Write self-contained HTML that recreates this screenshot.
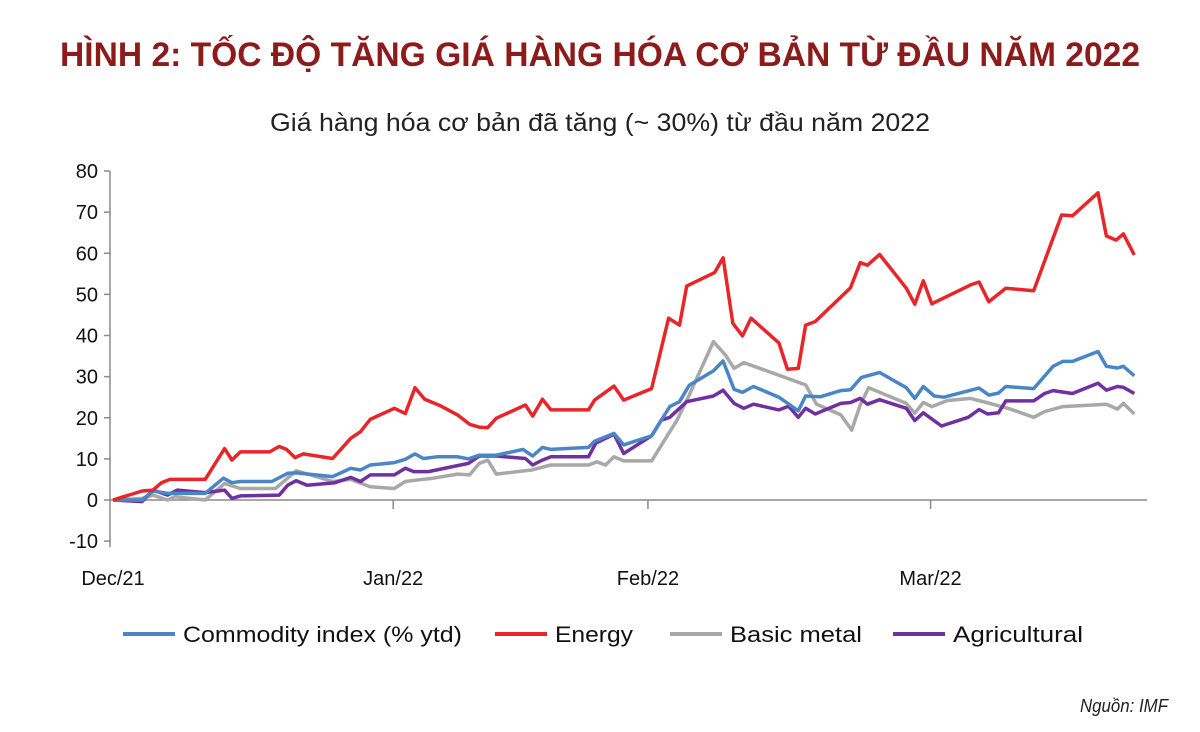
<!DOCTYPE html>
<html><head><meta charset="utf-8"><style>
html,body{margin:0;padding:0;background:#fff;width:1200px;height:732px;overflow:hidden}
svg{display:block;font-family:"Liberation Sans","DejaVu Sans",sans-serif}
</style></head><body>
<svg id="chart" width="1200" height="732" viewBox="0 0 1200 732">
<text x="600" y="66" text-anchor="middle" font-size="34" font-weight="bold" fill="#8c1b1b" textLength="1080" lengthAdjust="spacingAndGlyphs">HÌNH 2: TỐC ĐỘ TĂNG GIÁ HÀNG HÓA CƠ BẢN TỪ ĐẦU NĂM 2022</text>
<text x="600" y="131" text-anchor="middle" font-size="25" fill="#222" textLength="660" lengthAdjust="spacingAndGlyphs">Giá hàng hóa cơ bản đã tăng (~ 30%) từ đầu năm 2022</text>
<g id="axes"></g>
<g id="series"></g>
<g id="legend"></g>
<text x="1168" y="712" text-anchor="end" font-size="18" font-style="italic" fill="#222" textLength="88" lengthAdjust="spacingAndGlyphs">Nguồn: IMF</text>
</svg>
<script>
// Data: x = trading-day index since start of period, y = % change ytd
const yTicks = [80,70,60,50,40,30,20,10,0,-10];
const monthLabels = ["Dec/21","Jan/22","Feb/22","Mar/22"];
const monthDays = [0,23.1,44.1,67.4];
const seriesNames = ["Commodity index (% ytd)","Energy","Basic metal","Agricultural"];

const energyDays = [0,2.4,3.3,4,4.7,7.6,9.2,9.8,10.5,12.9,13.7,14.3,15,15.7,18.1,18.7,19.6,20.4,21.2,23.2,24.1,24.9,25.7,27,28.4,29.4,30.2,30.9,31.6,34,34.6,35.4,36.1,39.2,39.7,41.3,42.1,44.4,45.8,46.7,47.3,49.6,50.3,51.1,51.9,52.6,54.9,55.6,56.5,57.1,57.9,60.8,61.6,62.2,63.2,65.4,66.1,66.8,67.5,70.7,71.4,72.2,73.6,75.9,78.2,79.1,81.2,81.9,82.7,83.3,84.2];
const energyVals = [0,2.2,2.4,4.2,5,5,12.5,9.7,11.7,11.7,13,12.3,10.3,11.2,10.1,12,15,16.6,19.6,22.3,21,27.3,24.5,22.9,20.7,18.4,17.7,17.6,19.9,23.1,20.4,24.5,21.9,21.9,24.3,27.7,24.3,27.1,44.2,42.5,52,55.3,58.9,43,39.9,44.2,38.2,31.8,32,42.5,43.4,51.6,57.7,57.1,59.7,51.5,47.6,53.3,47.7,52.3,53,48.2,51.5,50.9,69.3,69.1,74.7,64.2,63.2,64.7,59.6];

const commodityDays = [0,2.4,3.3,4.5,7.6,9.1,9.8,10.5,13.1,14.4,15.1,18.1,19.6,20.4,21.2,23.2,24.1,24.9,25.6,26.7,28.4,29.3,30.2,31.6,33.8,34.6,35.4,36.1,39.2,39.7,41.3,42.1,44.4,45.9,46.7,47.5,49.5,50.3,51.2,51.9,52.8,54.9,56.5,57.1,58.3,60,60.8,61.7,63.2,65.4,66.1,66.8,67.7,68.5,71.4,72.2,73,73.6,75.9,77.5,78.3,79.1,81.2,81.9,82.8,83.3,84.2];
const commodityVals = [0,0,2.2,1.6,1.6,5.3,4.2,4.5,4.5,6.5,6.6,5.7,7.7,7.3,8.5,9.1,9.9,11.2,10.1,10.5,10.5,10,10.9,10.9,12.3,10.7,12.8,12.3,12.8,14.3,16.2,13.4,15.6,22.7,23.9,27.9,31.4,33.8,26.9,26.2,27.6,25,21.7,25.3,25.1,26.6,26.8,29.8,31,27.3,24.7,27.6,25.3,25,27.2,25.5,26,27.6,27.1,32.5,33.7,33.7,36.1,32.5,32.1,32.5,30.2];

const metalDays = [0,2.4,3.3,4.5,5.1,7.6,9.2,10.5,13.4,15.1,16.3,18.1,19.6,21.2,23.2,24.1,25.2,26.4,28.4,29.4,30.2,30.9,31.6,34.5,36.1,39.2,39.9,40.6,41.3,42.1,44.4,46.5,47.5,49.5,50.5,51.2,52,57.1,58,60,60.9,61.6,62.3,65.4,66.1,66.8,67.5,68.8,70.7,72,74,75.9,76.8,78.3,81.9,82.8,83.3,84.2];
const metalVals = [0,0.4,1.2,0,0.8,0,4,2.8,2.8,7.1,6.1,4.5,5,3.2,2.8,4.5,4.9,5.3,6.3,6.1,8.9,9.7,6.3,7.3,8.5,8.5,9.3,8.5,10.5,9.5,9.5,19.4,25.5,38.5,35.2,32,33.4,28,23.3,20.7,17,23.1,27.3,23.5,21.1,23.7,22.7,24.2,24.7,23.7,22.1,20.1,21.5,22.7,23.3,22.1,23.5,20.9];

const agriDays = [0,2.4,3.3,4.5,5.3,7.6,9.2,9.8,10.5,13.7,14.4,15.1,16,18.3,19.6,20.4,21.2,23.2,24.1,24.8,26,29.3,30.2,31.6,34,34.6,35.4,36.1,39.2,39.8,41.3,42.1,44.4,45.2,45.9,47.3,49.5,50.3,51.2,52,52.8,54.9,55.7,56.5,57.1,57.9,60,60.8,61.6,62.2,63.2,65.4,66.1,66.8,68.3,70.5,71.4,72.1,73,73.6,75.9,76.8,77.5,79.1,81.2,81.9,82.8,83.3,84.2];
const agriVals = [0,-0.4,2.4,1.2,2.4,1.8,2.4,0.4,1,1.2,3.6,4.7,3.6,4.2,5.5,4.5,6.1,6.1,7.7,6.9,6.9,8.9,10.7,10.7,10.1,8.5,9.7,10.5,10.5,13.8,16,11.3,15.6,19.4,20.1,23.9,25.3,26.7,23.5,22.3,23.3,21.9,22.8,20.1,22.3,20.9,23.5,23.7,24.7,23.3,24.4,22.3,19.3,21.2,18,20.1,22,20.9,21.2,24.1,24.1,25.9,26.6,25.9,28.4,26.7,27.6,27.4,25.9];

const NS = "http://www.w3.org/2000/svg";
const X0 = 113, PXDAY = 12.13, Y0 = 500, PXUNIT = 4.1125;
function xScale(d){ return X0 + d * PXDAY; }
function yScale(v){ return Y0 - v * PXUNIT; }
function mk(tag, attrs, parent){ const e = document.createElementNS(NS, tag); for (const k in attrs) e.setAttribute(k, attrs[k]); parent.appendChild(e); return e; }

const axes = document.getElementById("axes");
const yAxis = mk("line", {x1:110, y1:yScale(80), x2:110, y2:yScale(-11.5), stroke:"#8a8a8a", "stroke-width":1.5}, axes);


const xAxis = mk("line", {x1:110, y1:Y0, x2:1147, y2:Y0, stroke:"#8a8a8a", "stroke-width":1.5}, axes);


yTicks.forEach(v => {
  const t = mk("line", {x1:104, y1:yScale(v), x2:110, y2:yScale(v), stroke:"#8a8a8a", "stroke-width":1.5}, axes);
  
  
  const l = mk("text", {x:98, y:yScale(v)+7, "text-anchor":"end", "font-size":20, fill:"#111"}, axes);
  l.textContent = v;
  
  
});
monthLabels.forEach((m, i) => {
  const x = xScale(monthDays[i]);
  if (i > 0) {
    const t = mk("line", {x1:x, y1:Y0, x2:x, y2:Y0+9, stroke:"#8a8a8a", "stroke-width":1.5}, axes);
    
    
  }
  const l = mk("text", {x:x, y:585, "text-anchor":"middle", "font-size":20, fill:"#111"}, axes);
  l.textContent = m;
  
  
});

const seriesG = document.getElementById("series");
const seriesDefs = [
  {days:metalDays, vals:metalVals, color:"#a8a8a8", name:"basic-metal-line"},
  {days:agriDays, vals:agriVals, color:"#7030a0", name:"agricultural-line"},
  {days:commodityDays, vals:commodityVals, color:"#4a86c5", name:"commodity-index-line"},
  {days:energyDays, vals:energyVals, color:"#e8262a", name:"energy-line"}
];
seriesDefs.forEach(s => {
  const pts = s.days.map((d, i) => xScale(d).toFixed(1) + "," + yScale(s.vals[i]).toFixed(1)).join(" ");
  const p = mk("polyline", {points:pts, fill:"none", stroke:s.color, "stroke-width":3.5, "stroke-linejoin":"round"}, seriesG);
  
  
});

const legend = document.getElementById("legend");
const legendColors = ["#4a86c5","#e8262a","#a8a8a8","#7030a0"];
const legendX = [123, 495, 670, 893];
const legendW = [279, 78, 132, 130];
seriesNames.forEach((n, i) => {
  const ln = mk("line", {x1:legendX[i], y1:634, x2:legendX[i]+52, y2:634, stroke:legendColors[i], "stroke-width":4}, legend);
  
  
  const t = mk("text", {x:legendX[i]+60, y:642, "font-size":22, fill:"#111", textLength:legendW[i], lengthAdjust:"spacingAndGlyphs"}, legend);
  t.textContent = n;
  
  
});
</script>
</body></html>
